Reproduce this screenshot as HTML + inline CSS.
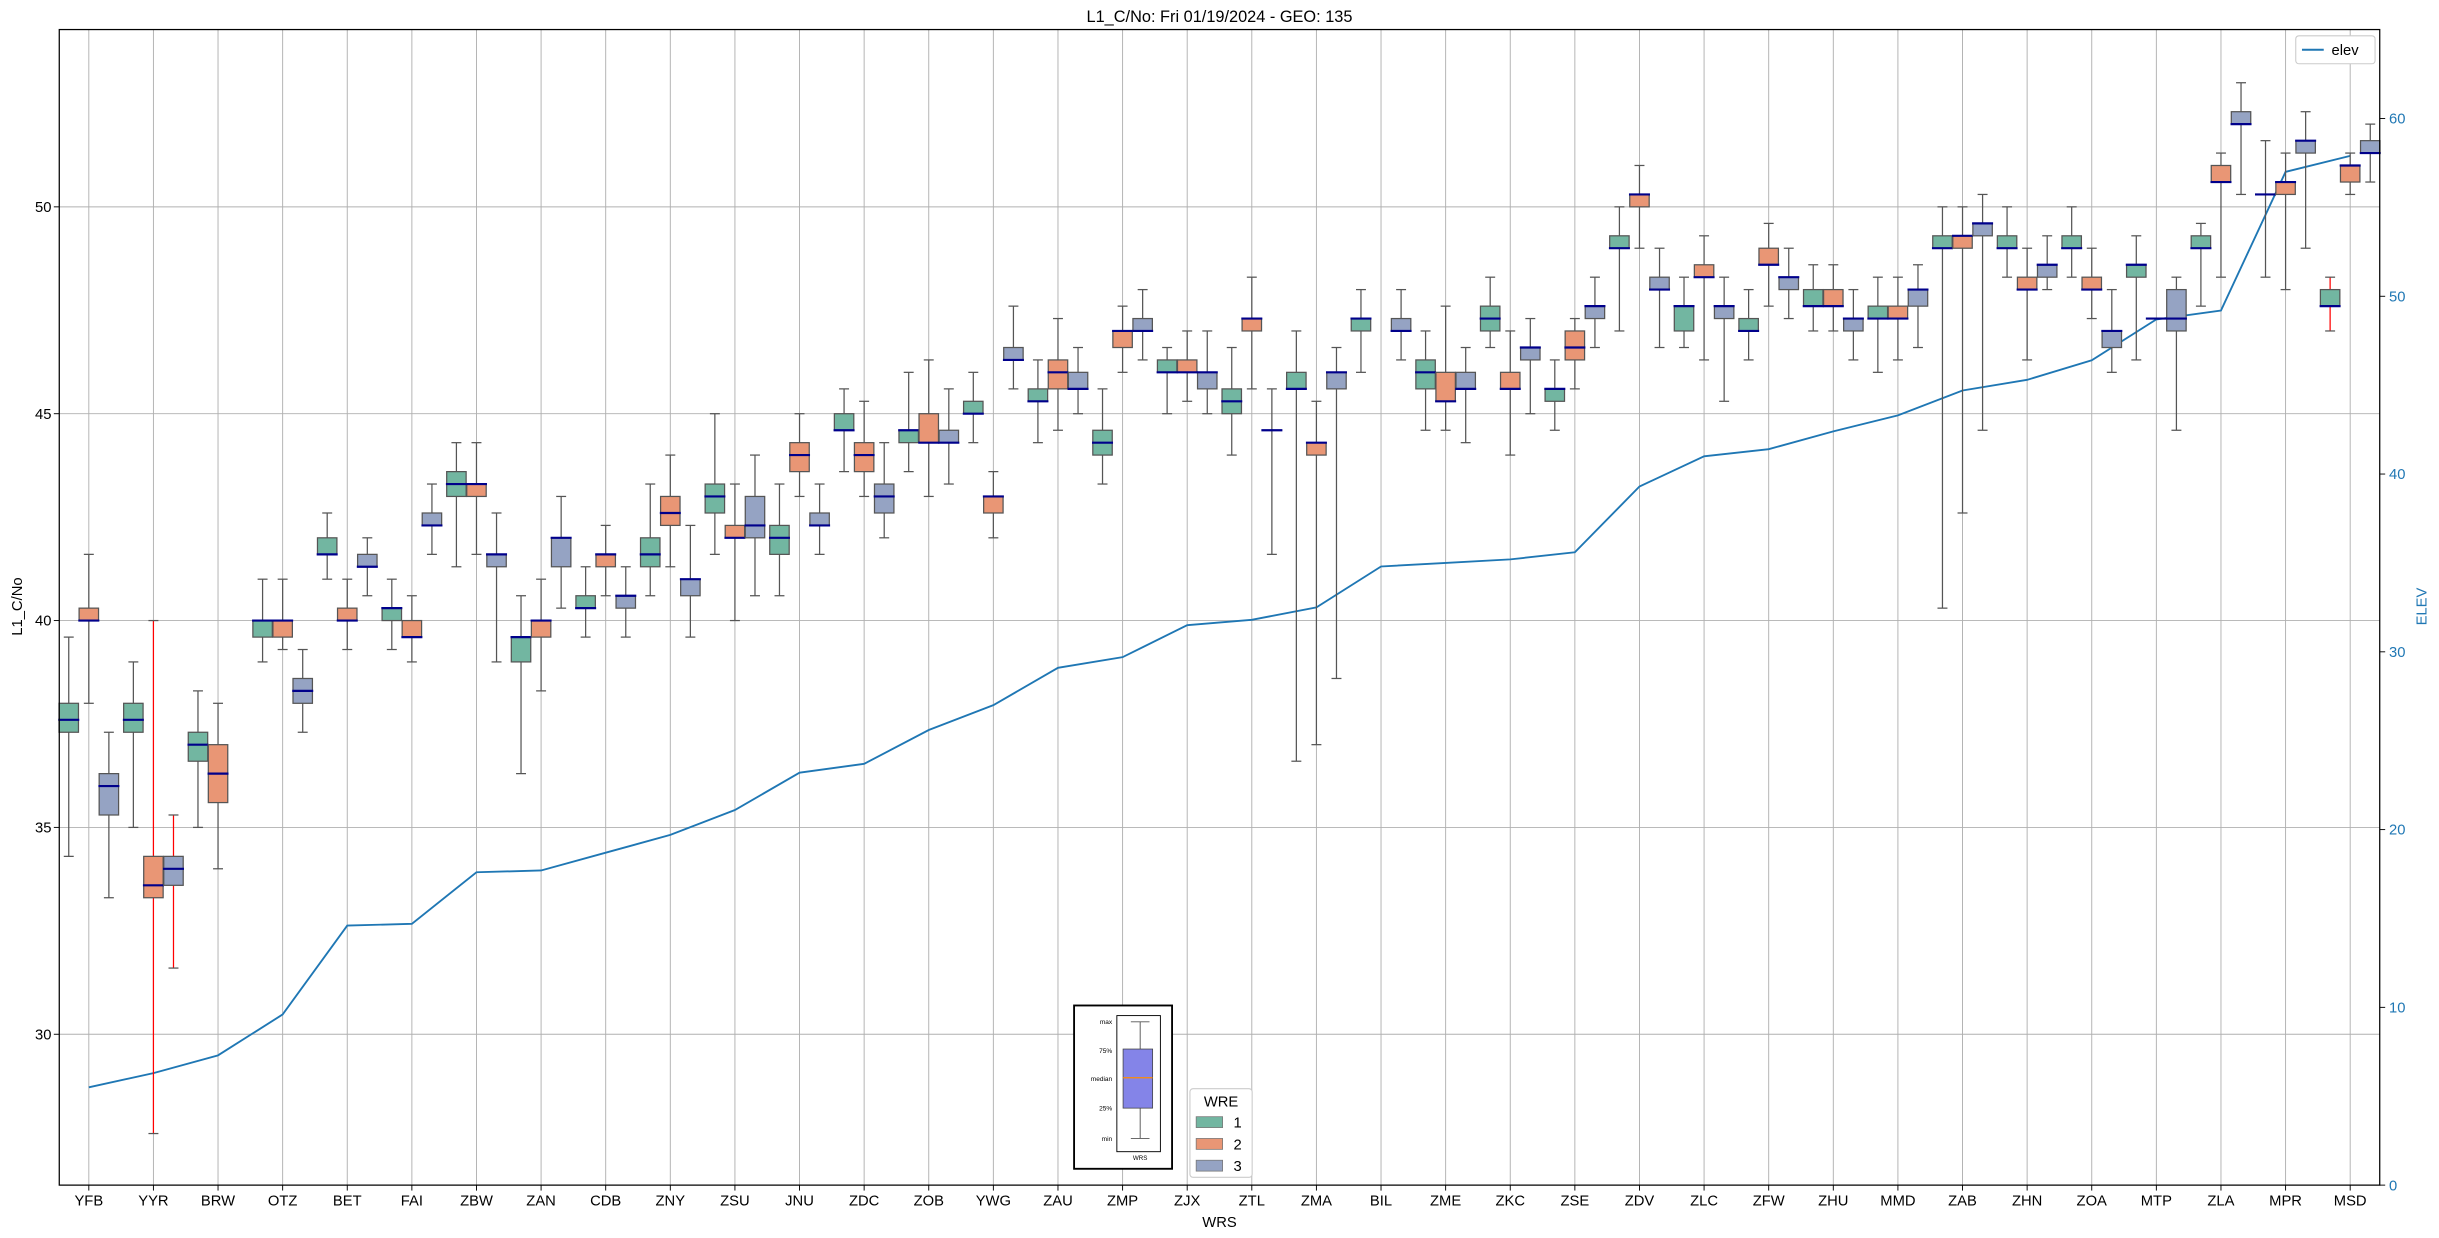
<!DOCTYPE html>
<html><head><meta charset="utf-8"><style>
html,body{margin:0;padding:0;background:#fff;}
svg{display:block;font-family:"Liberation Sans","DejaVu Sans",sans-serif;}
</style></head><body>
<svg id="chart" width="2439" height="1238" viewBox="0 0 1568 796" xmlns="http://www.w3.org/2000/svg">
<rect x="0" y="0" width="1568" height="796" fill="#fff"/>
<text x="784" y="14" font-size="10.5" text-anchor="middle">L1_C/No: Fri 01/19/2024 - GEO: 135</text>
<g id="grid"></g>
<g id="elevg"></g>
<g id="boxes"></g>
<rect x="38" y="19" width="1492" height="743" fill="none" stroke="#000" stroke-width="0.8"/>
<g id="axes"></g>
<text transform="translate(14,390) rotate(-90)" font-size="9.5" text-anchor="middle">L1_C/No</text>
<text transform="translate(1560,390) rotate(-90)" font-size="9.5" text-anchor="middle" fill="#1f77b4">ELEV</text>
<text x="784" y="789" font-size="9.5" text-anchor="middle">WRS</text>
<g>
<rect x="1476" y="23" width="51" height="18" rx="2" fill="#fff" stroke="#ccc" stroke-width="0.7"/>
<line x1="1480" y1="32" x2="1494" y2="32" stroke="#1f77b4" stroke-width="1.3"/>
<text x="1499" y="35.5" font-size="9.5">elev</text>
</g>
<g>
<rect x="690.5" y="646.5" width="63" height="105" fill="#fff" stroke="#000" stroke-width="1.2"/>
<rect x="718" y="653" width="28" height="87.5" fill="none" stroke="#000" stroke-width="0.6"/>
<line x1="733" y1="657" x2="733" y2="732" stroke="#555" stroke-width="0.6"/>
<line x1="727" y1="657" x2="739" y2="657" stroke="#555" stroke-width="0.6"/>
<line x1="727" y1="732" x2="739" y2="732" stroke="#555" stroke-width="0.6"/>
<rect x="722" y="674.5" width="19" height="38" fill="#8484e8" stroke="#444" stroke-width="0.5"/>
<line x1="722" y1="693" x2="741" y2="693" stroke="#ff8c00" stroke-width="0.8"/>
<g font-size="4.2" text-anchor="end">
<text x="715" y="658.5">max</text><text x="715" y="677">75%</text><text x="715" y="695">median</text><text x="715" y="714">25%</text><text x="715" y="733.5">min</text>
</g>
<text x="733" y="746" font-size="4" text-anchor="middle">WRS</text>
</g>
<g>
<rect x="765" y="700" width="40" height="57" rx="2" fill="#fff" stroke="#ccc" stroke-width="0.7"/>
<text x="785" y="711.5" font-size="9.5" text-anchor="middle">WRE</text>
<rect x="769" y="718" width="17" height="7" fill="#72b6a1" stroke="#777" stroke-width="0.5"/>
<text x="793" y="725" font-size="9.5">1</text>
<rect x="769" y="732" width="17" height="7" fill="#e99675" stroke="#777" stroke-width="0.5"/>
<text x="793" y="739" font-size="9.5">2</text>
<rect x="769" y="746" width="17" height="7" fill="#95a3c3" stroke="#777" stroke-width="0.5"/>
<text x="793" y="753" font-size="9.5">3</text>
</g>
</svg>
<script>
const categories=["YFB","YYR","BRW","OTZ","BET","FAI","ZBW","ZAN","CDB","ZNY","ZSU","JNU","ZDC","ZOB","YWG","ZAU","ZMP","ZJX","ZTL","ZMA","BIL","ZME","ZKC","ZSE","ZDV","ZLC","ZFW","ZHU","MMD","ZAB","ZHN","ZOA","MTP","ZLA","MPR","MSD"];
// [min,q1,median,q3,max]
const series1=[[34.3,37.3,37.6,38,39.6],[35,37.3,37.6,38,39],[35,36.6,37,37.3,38.3],[39,39.6,40,40,41],[41,41.6,41.6,42,42.6],[39.3,40,40.3,40.3,41],[41.3,43,43.3,43.6,44.3],[36.3,39,39.6,39.6,40.6],[39.6,40.3,40.3,40.6,41.3],[40.6,41.3,41.6,42,43.3],[41.6,42.6,43,43.3,45],[40.6,41.6,42,42.3,43.3],[43.6,44.6,44.6,45,45.6],[43.6,44.3,44.6,44.6,46],[44.3,45,45,45.3,46],[44.3,45.3,45.3,45.6,46.3],[43.3,44,44.3,44.6,45.6],[45,46,46,46.3,46.6],[44,45,45.3,45.6,46.6],[36.6,45.6,45.6,46,47],[46,47,47.3,47.3,48],[44.6,45.6,46,46.3,47],[46.6,47,47.3,47.6,48.3],[44.6,45.3,45.6,45.6,46.3],[47,49,49,49.3,50],[46.6,47,47.6,47.6,48.3],[46.3,47,47,47.3,48],[47,47.6,47.6,48,48.6],[46,47.3,47.3,47.6,48.3],[40.3,49,49,49.3,50],[48.3,49,49,49.3,50],[48.3,49,49,49.3,50],[46.3,48.3,48.6,48.6,49.3],[47.6,49,49,49.3,49.6],[48.3,50.3,50.3,50.3,51.6],[47,47.6,47.6,48,48.3]];
const series2=[[38,40,40,40.3,41.6],[27.6,33.3,33.6,34.3,40],[34,35.6,36.3,37,38],[39.3,39.6,40,40,41],[39.3,40,40,40.3,41],[39,39.6,39.6,40,40.6],[41.6,43,43.3,43.3,44.3],[38.3,39.6,40,40,41],[40.6,41.3,41.6,41.6,42.3],[41.3,42.3,42.6,43,44],[40,42,42,42.3,43.3],[43,43.6,44,44.3,45],[43,43.6,44,44.3,45.3],[43,44.3,44.3,45,46.3],[42,42.6,43,43,43.6],[44.6,45.6,46,46.3,47.3],[46,46.6,47,47,47.6],[45.3,46,46,46.3,47],[45.6,47,47.3,47.3,48.3],[37,44,44.3,44.3,45.3],null,[44.6,45.3,45.3,46,47.6],[44,45.6,45.6,46,47],[45.6,46.3,46.6,47,47.3],[49,50,50.3,50.3,51],[46.3,48.3,48.3,48.6,49.3],[47.6,48.6,48.6,49,49.6],[47,47.6,47.6,48,48.6],[46.3,47.3,47.3,47.6,48.3],[42.6,49,49.3,49.3,50],[46.3,48,48,48.3,49],[47.3,48,48,48.3,49],[47.3,47.3,47.3,47.3,47.3],[48.3,50.6,50.6,51,51.3],[48,50.3,50.6,50.6,51.3],[50.3,50.6,51,51,51.3]];
const series3=[[33.3,35.3,36,36.3,37.3],[31.6,33.6,34,34.3,35.3],null,[37.3,38,38.3,38.6,39.3],[40.6,41.3,41.3,41.6,42],[41.6,42.3,42.3,42.6,43.3],[39,41.3,41.6,41.6,42.6],[40.3,41.3,42,42,43],[39.6,40.3,40.6,40.6,41.3],[39.6,40.6,41,41,42.3],[40.6,42,42.3,43,44],[41.6,42.3,42.3,42.6,43.3],[42,42.6,43,43.3,44.3],[43.3,44.3,44.3,44.6,45.6],[45.6,46.3,46.3,46.6,47.6],[45,45.6,45.6,46,46.6],[46.3,47,47,47.3,48],[45,45.6,46,46,47],[41.6,44.6,44.6,44.6,45.6],[38.6,45.6,46,46,46.6],[46.3,47,47,47.3,48],[44.3,45.6,45.6,46,46.6],[45,46.3,46.6,46.6,47.3],[46.6,47.3,47.6,47.6,48.3],[46.6,48,48,48.3,49],[45.3,47.3,47.6,47.6,48.3],[47.3,48,48.3,48.3,49],[46.3,47,47.3,47.3,48],[46.6,47.6,48,48,48.6],[44.6,49.3,49.6,49.6,50.3],[48,48.3,48.6,48.6,49.3],[46,46.6,47,47,48],[44.6,47,47.3,48,48.3],[50.3,52,52,52.3,53],[49,51.3,51.6,51.6,52.3],[50.6,51.3,51.3,51.6,52]];
const redWhiskers1=["MSD"];
const redWhiskers2=["YYR"];
const redWhiskers3=["YYR"];
const elevation=[5.5,6.3,7.3,9.6,14.6,14.7,17.6,17.7,18.7,19.7,21.1,23.2,23.7,25.6,27.0,29.1,29.7,31.5,31.8,32.5,34.8,35.0,35.2,35.6,39.3,41.0,41.4,42.4,43.3,44.7,45.3,46.4,48.7,49.2,57.0,57.9];
const leftTicks=[30,35,40,45,50];
const rightTicks=[0,10,20,30,40,50,60];

const NS="http://www.w3.org/2000/svg";
const X0=38,X1=1530,Y0=19,Y1=762;
const yL=v=>399-(v-40)*26.6;
const yR=v=>762-v*11.43;
const xC=i=>57+i*(1511-57)/(categories.length-1);
function mk(tag,attrs,parent){const e=document.createElementNS(NS,tag);for(const k in attrs)e.setAttribute(k,attrs[k]);parent.appendChild(e);return e;}
const grid=document.getElementById('grid'),axes=document.getElementById('axes'),boxes=document.getElementById('boxes'),elevg=document.getElementById('elevg');
leftTicks.forEach(t=>{
  const g=mk('line',{x1:X0,x2:X1,y1:yL(t),y2:yL(t),stroke:'#b0b0b0','stroke-width':0.6},grid);
  
  
  mk('line',{x1:X0-3.5,x2:X0,y1:yL(t),y2:yL(t),stroke:'#000','stroke-width':0.6},axes);
  const tx=mk('text',{x:X0-5,y:yL(t)+3.3,'font-size':9.5,'text-anchor':'end'},axes);
  tx.textContent=t;
  
  
});
rightTicks.forEach(t=>{
  mk('line',{x1:X1,x2:X1+3.5,y1:yR(t),y2:yR(t),stroke:'#000','stroke-width':0.6},axes);
  const tx=mk('text',{x:X1+6,y:yR(t)+3.3,'font-size':9.5,fill:'#1f77b4'},axes);
  tx.textContent=t;
  
  
});
categories.forEach((c,i)=>{
  const x=xC(i);
  const g=mk('line',{x1:x,x2:x,y1:Y0,y2:Y1,stroke:'#b0b0b0','stroke-width':0.6},grid);
  
  
  mk('line',{x1:x,x2:x,y1:Y1,y2:Y1+3.5,stroke:'#000','stroke-width':0.6},axes);
  const tx=mk('text',{x:x,y:Y1+13,'font-size':9.5,'text-anchor':'middle'},axes);
  tx.textContent=c;
  
  
});
const allSeries=[series1,series2,series3];
const fills=['#72b6a1','#e99675','#95a3c3'];
const reds=[redWhiskers1,redWhiskers2,redWhiskers3];
const W=12.5,D=12.9;
allSeries.forEach((s,si)=>{
  s.forEach((b,i)=>{
    if(!b)return;
    const cx=xC(i)+(si-1)*D;
    const red=reds[si].includes(categories[i]);
    const wc=red?'#ff0000':'#555';
    const g=mk('g',{},boxes);
    
    
    mk('line',{x1:cx,x2:cx,y1:yL(b[0]),y2:yL(b[1]),stroke:wc,'stroke-width':0.8},g);
    mk('line',{x1:cx,x2:cx,y1:yL(b[3]),y2:yL(b[4]),stroke:wc,'stroke-width':0.8},g);
    mk('line',{x1:cx-3.2,x2:cx+3.2,y1:yL(b[0]),y2:yL(b[0]),stroke:'#555','stroke-width':0.8},g);
    mk('line',{x1:cx-3.2,x2:cx+3.2,y1:yL(b[4]),y2:yL(b[4]),stroke:'#555','stroke-width':0.8},g);
    mk('rect',{x:cx-W/2,y:yL(b[3]),width:W,height:Math.max(0.01,yL(b[1])-yL(b[3])),fill:fills[si],stroke:'#555','stroke-width':0.8},g);
    mk('line',{x1:cx-W/2-0.5,x2:cx+W/2+0.5,y1:yL(b[2]),y2:yL(b[2]),stroke:'#00008b','stroke-width':1.4},g);
  });
});
const pts=elevation.map((v,i)=>xC(i)+','+yR(v)).join(' ');
const pl=mk('polyline',{points:pts,fill:'none',stroke:'#1f77b4','stroke-width':1.2},elevg);


</script>
</body></html>
